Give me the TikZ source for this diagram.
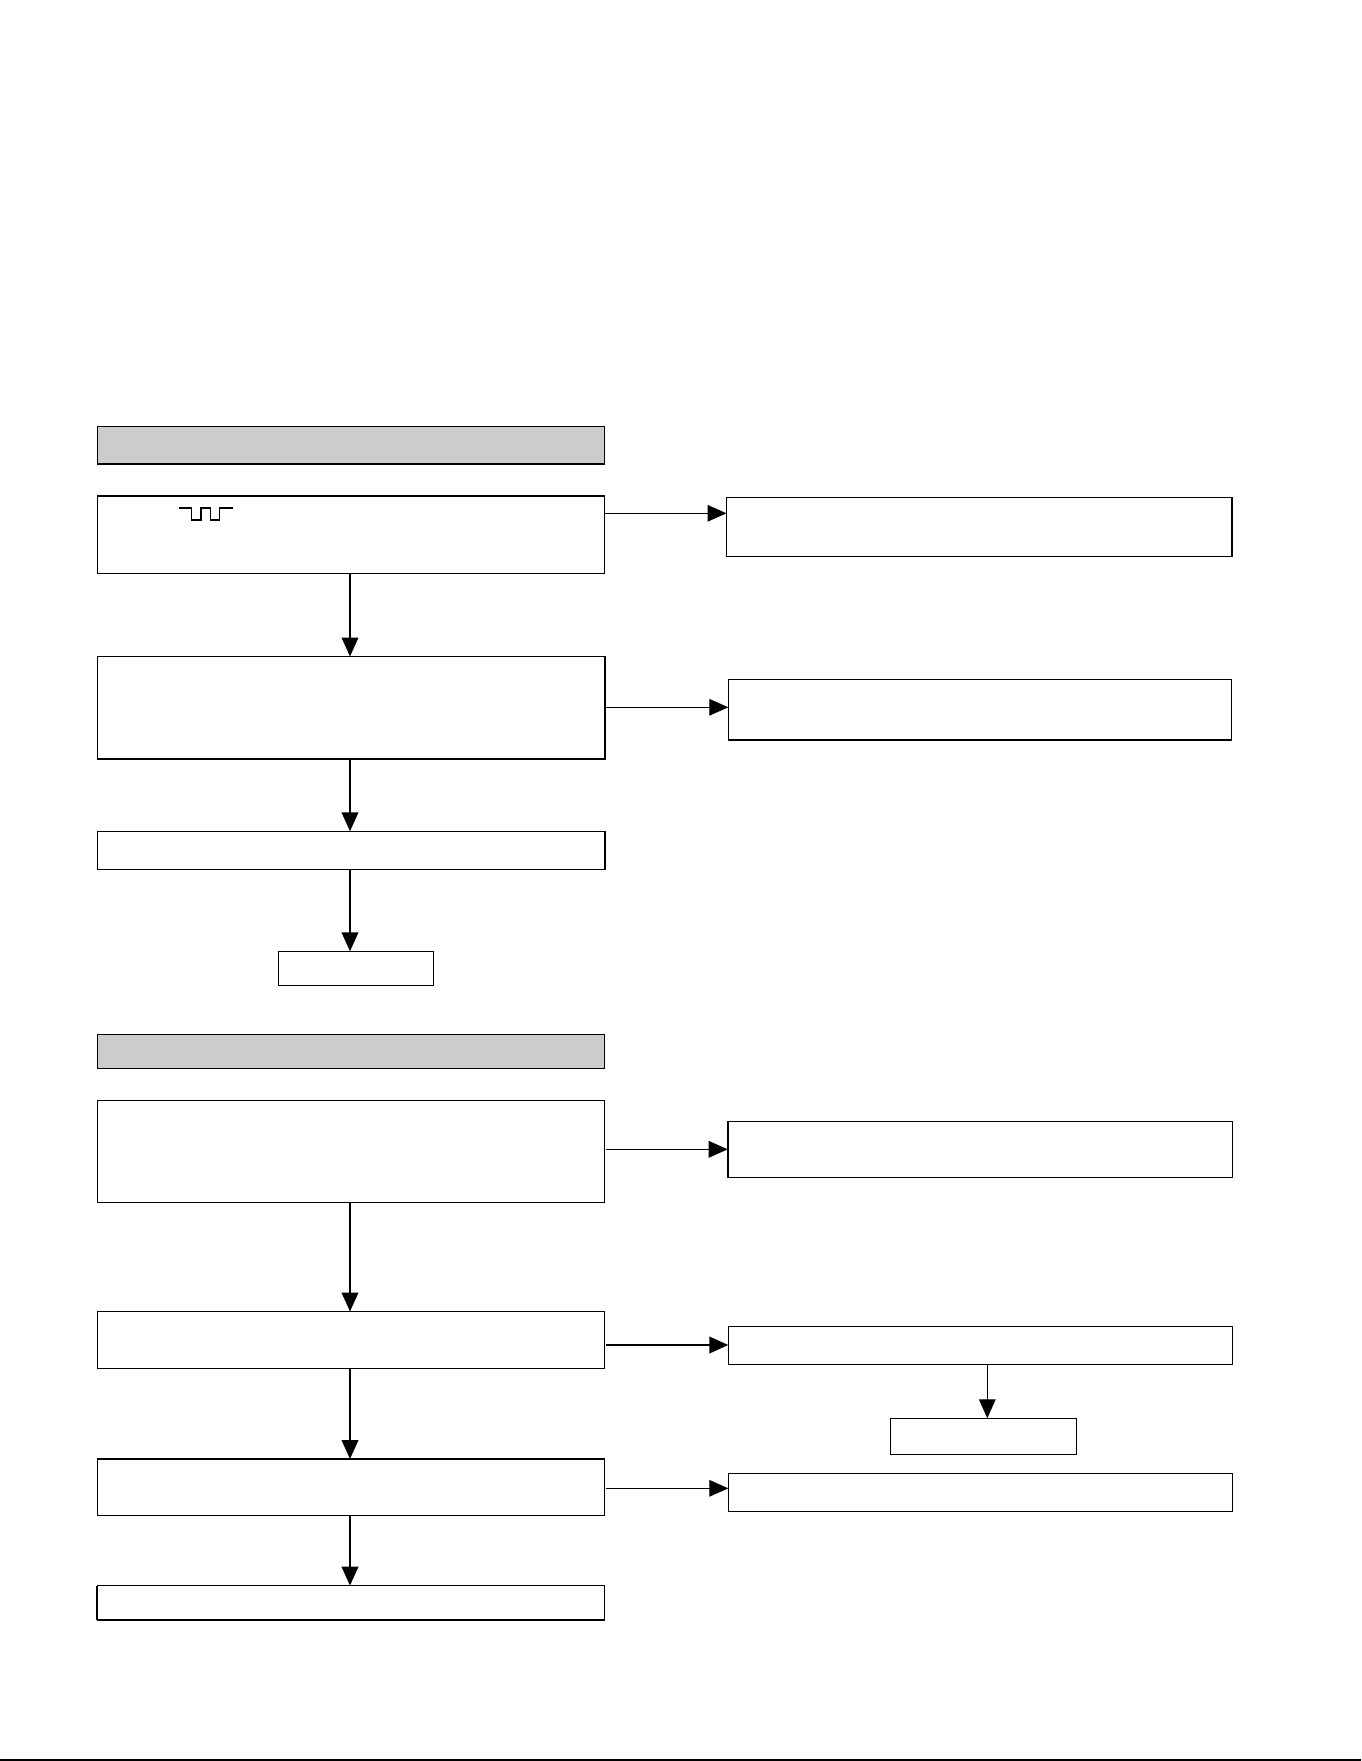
\documentclass[tikz,border=0pt]{standalone}
\usetikzlibrary{arrows.meta,fit,calc}
\definecolor{hdrgray}{HTML}{CCCCCC}
\begin{document}
\begin{tikzpicture}[x=0.5pt,y=-0.5pt,
  box/.style={draw=black,line width=0.65pt,inner sep=0pt,outer sep=0pt,fill=white},
  hdr/.style={box,fill=hdrgray},
  arr/.style={line width=0.65pt,-{Triangle[length=9.5pt,width=8.3pt]}},
  varr/.style={line width=1pt,-{Triangle[length=9.5pt,width=8.3pt]}},
  thickedge/.style={line width=1pt}]
\useasboundingbox[fill=white] (0,0) rectangle (1361,1761);

% --- section 1 ---
\node[hdr,fit={(97.3,426.3) (604.3,464)}] (g1) {};
\node[box,fit={(97.3,496) (604.3,573.3)}] (a1) {};
\node[box,fit={(726.5,497.3) (1231.7,556.5)}] (r1) {};
\node[box,fit={(97.3,656.5) (605,759)}] (a2) {};
\node[box,fit={(728.3,679.3) (1231.3,740)}] (r2) {};
\node[box,fit={(97.3,831.3) (605,869.3)}] (a3) {};
\node[box,fit={(278.5,951.3) (433.7,985.3)}] (a4) {};

% thicker edges
\draw[thickedge] (a1.north west) -- (a1.north east);
\draw[thickedge] (r1.north east) -- (r1.south east);
\draw[thickedge] (a2.north east) -- (a2.south east);
\draw[thickedge] (a3.north east) -- (a3.south east);

% waveform symbol
\draw[line width=0.65pt] (179,508) -- (191.7,508) -- (191.7,520) -- (201,520) -- (201,508)
  -- (210.7,508) -- (210.7,520) -- (219.3,520) -- (219.3,508) -- (233.3,508);

\draw[arr] (a1.east |- 0,513.3) -- (r1.west |- 0,513.3);
\draw[arr] (a2.east |- 0,707.3) -- (r2.west |- 0,707.3);
\draw[varr] (350,0 |- a1.south) -- (350,0 |- a2.north);
\draw[varr] (350,0 |- a2.south) -- (350,0 |- a3.north);
\draw[varr] (350,0 |- a3.south) -- (350,0 |- a4.north);

% --- section 2 ---
\node[hdr,fit={(97.3,1034.6) (604.3,1068.3)}] (g2) {};
\node[box,fit={(97.3,1100.5) (604.3,1202.4)}] (b1) {};
\node[box,fit={(727.7,1121.3) (1232.3,1177.3)}] (s1) {};
\node[box,fit={(97.3,1311.5) (604.3,1368.5)}] (b2) {};
\node[box,fit={(728.3,1326.3) (1232.3,1364.3)}] (s2) {};
\node[box,fit={(890.3,1418.3) (1076.6,1454.3)}] (s3) {};
\node[box,fit={(97.3,1459) (604.3,1515.5)}] (b3) {};
\node[box,fit={(728.3,1473.5) (1232.3,1511.3)}] (s4) {};
\node[box,fit={(97.3,1585.6) (604.3,1620)}] (b4) {};

\draw[thickedge] (s1.north west) -- (s1.south west);
\draw[thickedge] (b4.north west) -- (b4.south west);

\draw[arr,shorten <=1pt] (b1.east |- 0,1149.3) -- (s1.west |- 0,1149.3);
\draw[varr,shorten <=1pt] (b2.east |- 0,1345) -- (s2.west |- 0,1345);
\draw[arr,shorten <=1pt] (b3.east |- 0,1488.3) -- (s4.west |- 0,1488.3);
\draw[arr] (987.3,0 |- s2.south) -- (987.3,0 |- s3.north);
\draw[varr] (350,0 |- b1.south) -- (350,0 |- b2.north);
\draw[varr] (350,0 |- b2.south) -- (350,0 |- b3.north);
\draw[varr] (350,0 |- b3.south) -- (350,0 |- b4.north);

% page rule at the bottom
\draw[line width=0.7pt] (0,1760) -- (1361,1760);
\end{tikzpicture}
\end{document}
